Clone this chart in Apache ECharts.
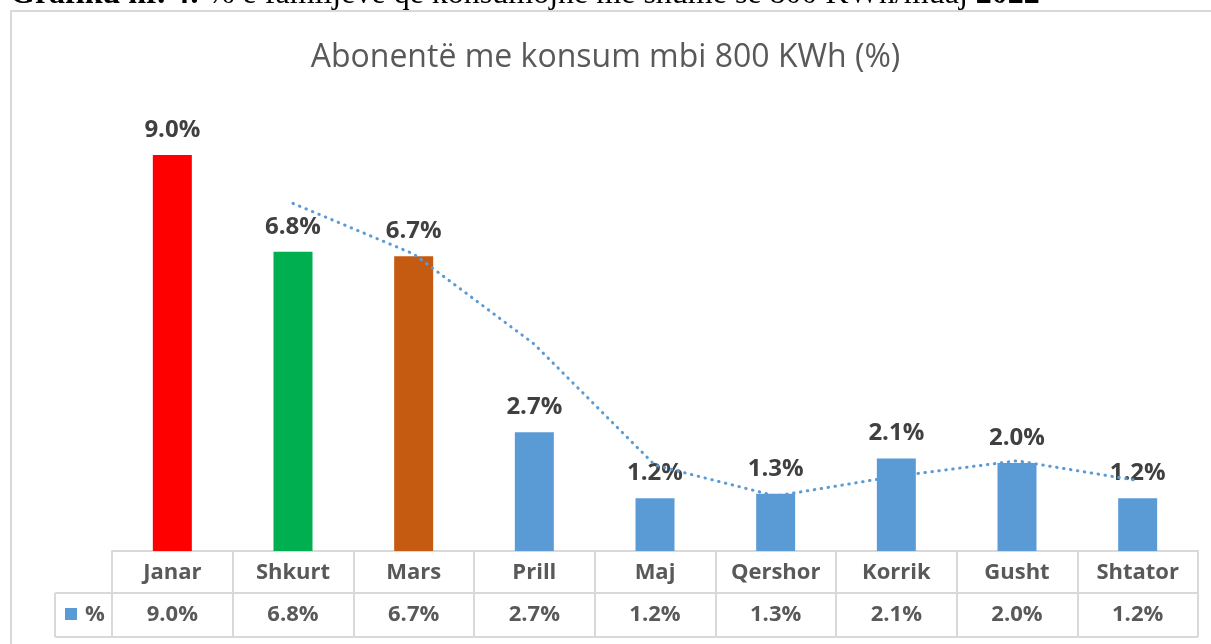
<!DOCTYPE html>
<html>
<head>
<meta charset="utf-8">
<script src="https://cdn.jsdelivr.net/npm/echarts@6/dist/echarts.min.js"></script>
<style>
  html, body { margin: 0; padding: 0; background: #fff; }
  #main { width: 1211px; height: 644px; }
</style>
</head>
<body>
<div id="main"></div>
<script>
// te dhenat e grafikut
var muajt = ['Janar', 'Shkurt', 'Mars', 'Prill', 'Maj', 'Qershor', 'Korrik', 'Gusht', 'Shtator'];
var perqindja = [9.0, 6.8, 6.7, 2.7, 1.2, 1.3, 2.1, 2.0, 1.2];
var ngjyrat = ['#FF0000', '#00B050', '#C55A11', '#5B9BD5', '#5B9BD5', '#5B9BD5', '#5B9BD5', '#5B9BD5', '#5B9BD5'];
// vija e trendit (mesatare levizese, lexuar nga grafiku)
var trendi = [null, 7.9, 6.75, 4.7, 1.95, 1.25, 1.7, 2.05, 1.6];

window.onload = () => {
    var chartDom = document.getElementById('main');
    var myChart = echarts.init(chartDom);
    var gri = '#d9d9d9';
    var tekst = '#595959';
    var font = '"Open Sans", Lato, sans-serif';

    var option = {
        animation: false,
        title: {
            text: 'Abonentë me konsum mbi 800 KWh (%)',
            left: 'center',
            top: 37,
            textStyle: {
                fontFamily: font,
                fontSize: 32,
                fontWeight: 'normal',
                color: tekst
            }
        },
        grid: {
            left: 112,
            right: 13,
            top: 111,
            bottom: 93,
            containLabel: false
        },
        xAxis: [{
            type: 'category',
            data: muajt,
            position: 'bottom',
            axisLine: { lineStyle: { color: gri, width: 2 } },
            axisTick: { show: true, interval: 0, length: 86, lineStyle: { color: gri, width: 2 } },
            axisLabel: {
                interval: 0,
                margin: 11,
                fontFamily: font,
                fontSize: 22,
                fontWeight: 'bold',
                color: tekst
            }
        }, {
            type: 'category',
            data: perqindja.map(v => v.toFixed(1) + '%'),
            position: 'bottom',
            offset: 42,
            axisLine: { lineStyle: { color: gri, width: 2 } },
            axisTick: { show: false },
            axisLabel: {
                interval: 0,
                margin: 11,
                fontFamily: font,
                fontSize: 22,
                fontWeight: 'bold',
                color: tekst
            }
        }],
        yAxis: {
            type: 'value',
            min: 0,
            max: 10,
            show: false,
            splitLine: { show: false }
        },
        series: [{
            name: '%',
            type: 'bar',
            barWidth: 39,
            data: perqindja.map((v, i) => ({ value: v, itemStyle: { color: ngjyrat[i] } })),
            label: {
                show: true,
                position: 'top',
                distance: 13,
                formatter: p => p.value.toFixed(1) + '%',
                fontFamily: font,
                fontSize: 24,
                fontWeight: 'bold',
                color: '#404040'
            },
            z: 2
        }, {
            name: 'trend',
            type: 'line',
            data: trendi,
            symbol: 'none',
            lineStyle: { color: '#5B9BD5', width: 3, type: [0.5, 6.5], cap: 'round' },
            z: 3
        }],
        graphic: [{
            type: 'text',
            left: 10,
            top: -21,
            style: {
                text: '{b|Grafiku nr. 4:} % e familjeve që konsumojnë me shumë se 800 KWh/muaj {b|2022}',
                font: '32px "Liberation Serif", serif',
                fill: '#000',
                rich: {
                    b: { fontWeight: 'bold', fontFamily: '"Liberation Serif", serif', fontSize: 32, fill: '#000' }
                }
            }
        }, {
            type: 'rect',
            shape: { x: 11, y: 11, width: 1400, height: 800 },
            style: { fill: 'none', stroke: gri, lineWidth: 2 },
            silent: true
        }, {
            type: 'line',
            shape: { x1: 55, y1: 637, x2: 1198, y2: 637 },
            style: { stroke: gri, lineWidth: 2 }
        }, {
            type: 'line',
            shape: { x1: 55, y1: 593, x2: 112, y2: 593 },
            style: { stroke: gri, lineWidth: 2 }
        }, {
            type: 'line',
            shape: { x1: 55, y1: 593, x2: 55, y2: 637 },
            style: { stroke: gri, lineWidth: 2 }
        }, {
            type: 'rect',
            shape: { x: 65, y: 608, width: 12, height: 12 },
            style: { fill: '#5B9BD5' }
        }, {
            type: 'text',
            x: 85,
            y: 615,
            style: {
                text: '%',
                font: 'bold 22px ' + font,
                fill: tekst,
                textVerticalAlign: 'middle'
            }
        }]
    };
    option && myChart.setOption(option);
}
</script>
</body>
</html>
